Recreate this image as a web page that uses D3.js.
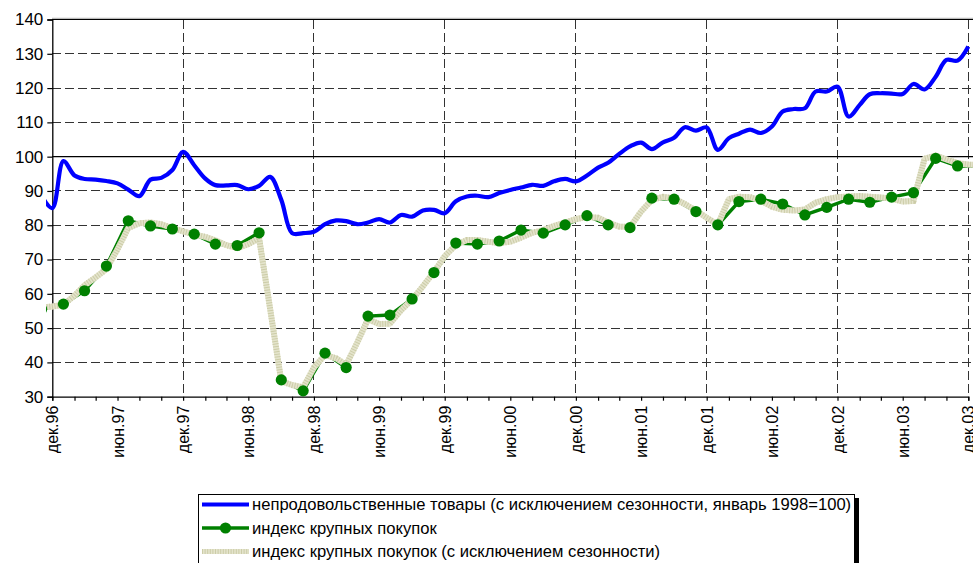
<!doctype html>
<html>
<head>
<meta charset="utf-8">
<script src="https://cdn.jsdelivr.net/npm/d3@7"></script>
<style>
html,body{margin:0;background:#fff;overflow:hidden;}
text{font-family:"Liberation Sans",Arial,sans-serif;fill:#000;}
</style>
</head>
<body>
<script>
// legend / series names
var seriesNames = [
    "непродовольственные товары (с исключением сезонности, январь 1998=100)",
    "индекс крупных покупок",
    "индекс крупных покупок (с исключением сезонности)"
];

// non-food goods, monthly from Nov 1996 to Dec 2003
var nonFood = [
    88.5, 85,
    98.7, 94.5, 93.5, 93.3, 92.9, 92.2, 90.4, 88.5, 93.3, 93.8, 96.1, 101.4,
    97.5, 93.6, 91.7, 91.6, 91.7, 90.5, 91.5, 94.1, 87.4, 77.7, 77.7, 78.1,
    80.3, 81.4, 81.2, 80.3, 80.8, 81.8, 80.8, 83, 82.5, 84.3, 84.5, 83.5,
    87, 88.4, 88.6, 88.2, 89.4, 90.3, 91, 91.8, 91.5, 92.8, 93.5, 92.8,
    94.5, 96.8, 98.2, 100.8, 103, 104.1, 102.2, 104.2, 105.5, 108.6, 107.6, 108.5,
    102, 105.4, 106.7, 107.9, 106.9, 108.8, 113.2, 113.9, 114.1, 119, 119, 120.4,
    111.7, 115.1, 118.2, 118.5, 118.4, 118.3, 121.2, 119.6, 123.3, 128.2, 128, 132.1
];

// index of large purchases, every two months from Nov 1996 to Jan 2004
var purchases = [
    55.5,
    57, 60.9, 68.1, 81.3, 79.8, 78.9,
    77.4, 74.5, 74.1, 77.8, 34.9, 31.7,
    42.7, 38.5, 53.5, 53.8, 58.5, 66.2,
    74.8, 74.5, 75.4, 78.6, 77.7, 80.1,
    82.8, 80.1, 79.3, 87.9, 87.6, 84,
    80.1, 86.9, 87.6, 86.2, 83, 85.2,
    87.6, 86.7, 88.2, 89.5, 99.5, 97.3,
    97.3
];

// same index seasonally adjusted, monthly from Nov 1996 to Jan 2004
var purchasesSA = [
    56, 56.3,
    56.8, 59.5, 62.5, 64.8, 67.2, 73, 79.2, 80.6, 80.8, 80.3, 79.2, 78.2,
    77.3, 76.6, 75.6, 74.2, 73.3, 74.5, 76.2, 55.5, 34.5, 33.4, 32.7, 38.5,
    42.2, 41.2, 39.3, 45.8, 52.6, 51.2, 51.3, 55.2, 58.3, 62.2, 66.4, 71,
    74.2, 75.7, 75.7, 75.2, 74.8, 75.2, 76.4, 77.8, 78.6, 79.8, 80.8, 81.8,
    82.4, 82.2, 80.8, 79.6, 79.5, 84, 87.4, 88.3, 87.8, 86.2, 84.3, 82.2,
    80.2, 87.6, 88.3, 88.2, 87.2, 85.4, 84.5, 84.3, 84.6, 86.6, 87.6, 88.2,
    88.4, 88.5, 88.3, 88.1, 87.8, 86.9, 87.1, 99.4, 100.3, 99.2, 98.1, 97.7,
    97.5
];

var yTicks = [30, 40, 50, 60, 70, 80, 90, 100, 110, 120, 130, 140];
var monthNames = {5: "июн.", 11: "дек."};

(function(){
    var w = 973, h = 563;

    // every series starts in Nov 1996
    function toPoints(values, step){
        return values.map(function(v, i){
            return {date: new Date(1996, 10 + i*step, 1), value: v};
        });
    }
    var blueData = toPoints(nonFood, 1),
        greenData = toPoints(purchases, 2),
        beigeData = toPoints(purchasesSA, 1);

    var x = d3.scaleTime()
        .domain([new Date(1996, 11, 1), new Date(2003, 11, 1)])
        .range([52.3, 968.3]);
    var y = d3.scaleLinear().domain([30, 140]).range([396.7, 19.5]);

    var svg = d3.select("body").append("svg")
        .attr("width", w)
        .attr("height", h);

    svg.append("clipPath").attr("id", "plotclip")
      .append("rect").attr("x", 46).attr("y", 0).attr("width", w).attr("height", 400);

    // grid
    var grid = svg.append("g").attr("stroke", "#333").attr("stroke-width", 1)
        .attr("stroke-dasharray", "9,4").attr("shape-rendering", "crispEdges");
    grid.selectAll("line.h").data(yTicks.filter(function(d){ return d > 30 && d < 140 && d != 100; }))
      .enter().append("line")
        .attr("x1", 52).attr("x2", w)
        .attr("y1", function(d){ return y(d); }).attr("y2", function(d){ return y(d); });
    var decs = d3.range(1, 8).map(function(k){ return new Date(1996 + k, 11, 1); });
    grid.selectAll("line.v").data(decs)
      .enter().append("line")
        .attr("x1", function(d){ return x(d); }).attr("x2", function(d){ return x(d); })
        .attr("y1", y(140)).attr("y2", y(30));

    // solid lines: top border and 100 level
    svg.append("line").attr("x1", 52).attr("x2", w).attr("y1", y(140) - 1.2).attr("y2", y(140) - 1.2)
        .attr("stroke", "#aaa").attr("stroke-width", 1);
    svg.append("line").attr("x1", 52).attr("x2", w).attr("y1", y(140)).attr("y2", y(140))
        .attr("stroke", "#000").attr("stroke-width", 1.2);
    svg.append("line").attr("x1", 52).attr("x2", w).attr("y1", y(100)).attr("y2", y(100))
        .attr("stroke", "#000").attr("stroke-width", 1.3);

    // axes
    var yAxis = svg.append("g").attr("transform", "translate(52.3,0)")
        .call(d3.axisLeft(y).tickValues(yTicks).tickSize(5).tickPadding(4).tickFormat(d3.format("d")));
    yAxis.selectAll("text").style("font-size", "17px");

    var tickDates = d3.range(0, 85, 2).map(function(i){ return new Date(1996, 11 + i, 1); });
    var xAxis = svg.append("g").attr("transform", "translate(0," + y(30) + ")")
        .call(d3.axisBottom(x).tickValues(tickDates).tickSize(4)
            .tickFormat(function(d){
                var m = d.getMonth();
                return monthNames[m] ? monthNames[m] + d3.timeFormat("%y")(d) : "";
            }));
    xAxis.selectAll("text")
        .style("font-size", "16px")
        .attr("text-anchor", "end")
        .attr("transform", "rotate(-90)")
        .attr("x", -9).attr("y", 0).attr("dy", "0.35em");
    svg.selectAll(".domain").attr("stroke", "#000").attr("stroke-width", 1.3);
    svg.selectAll(".tick line").attr("stroke", "#000").attr("stroke-width", 1.2);

    // series
    var plot = svg.append("g").attr("clip-path", "url(#plotclip)");
    var line = d3.line()
        .x(function(d){ return x(d.date); })
        .y(function(d){ return y(d.value); });

    plot.append("path").datum(blueData)
        .attr("d", line.curve(d3.curveCatmullRom.alpha(0.5)))
        .attr("fill", "none").attr("stroke", "#0000ff").attr("stroke-width", 4.2)
        .attr("stroke-linejoin", "round");

    line.curve(d3.curveLinear);
    plot.append("path").datum(greenData)
        .attr("d", line)
        .attr("fill", "none").attr("stroke", "#008000").attr("stroke-width", 3.5);

    plot.append("path").datum(beigeData)
        .attr("d", line)
        .attr("fill", "none").attr("stroke", "#e4e4cc").attr("stroke-width", 6)
        .attr("stroke-linejoin", "round");
    plot.append("path").datum(beigeData)
        .attr("d", line)
        .attr("fill", "none").attr("stroke", "#cccca8").attr("stroke-width", 6)
        .attr("stroke-dasharray", "1,1.6");

    plot.selectAll("circle").data(greenData)
      .enter().append("circle")
        .attr("cx", function(d){ return x(d.date); })
        .attr("cy", function(d){ return y(d.value); })
        .attr("r", 5.6)
        .attr("fill", "#008000");

    // legend
    var lg = svg.append("g").attr("transform", "translate(198,494)");
    lg.append("rect").attr("x", 4).attr("y", 4).attr("width", 657).attr("height", 90).attr("fill", "#000");
    lg.append("rect").attr("x", 0.5).attr("y", 0.5).attr("width", 656).attr("height", 90)
        .attr("fill", "#fff").attr("stroke", "#000").attr("stroke-width", 1);

    var rows = [10.5, 34, 57.5];
    var item = lg.selectAll("g.item").data(seriesNames)
      .enter().append("g")
        .attr("transform", function(d, i){ return "translate(0," + rows[i] + ")"; });
    item.append("text")
        .attr("x", 54).attr("dy", "0.35em")
        .style("font-size", "16.6px")
        .text(function(d){ return d; });

    var l0 = d3.select(item.nodes()[0]), l1 = d3.select(item.nodes()[1]), l2 = d3.select(item.nodes()[2]);
    l0.append("line").attr("x1", 4).attr("x2", 51).attr("stroke", "#0000ff").attr("stroke-width", 4.2);
    l1.append("line").attr("x1", 4).attr("x2", 51).attr("stroke", "#008000").attr("stroke-width", 3.5);
    l1.append("circle").attr("cx", 27.5).attr("r", 5.6).attr("fill", "#008000");
    l2.append("line").attr("x1", 4).attr("x2", 51).attr("stroke", "#e4e4cc").attr("stroke-width", 5);
    l2.append("line").attr("x1", 4).attr("x2", 51).attr("stroke", "#cccca8").attr("stroke-width", 5)
        .attr("stroke-dasharray", "1,1.6");
})();
</script>
</body>
</html>
